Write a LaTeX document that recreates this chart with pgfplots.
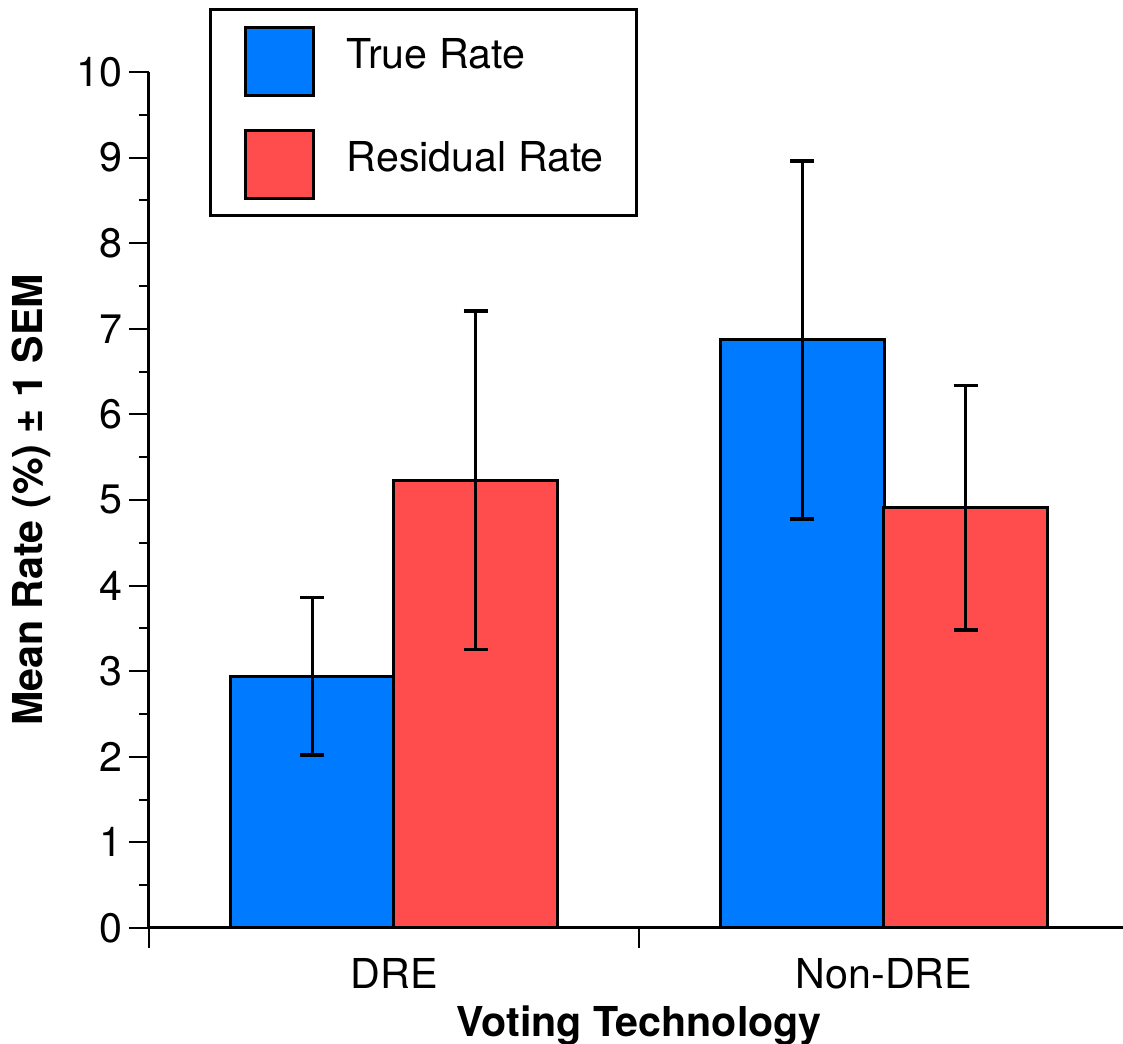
\documentclass[border=0pt]{standalone}
\usepackage{fontspec}
\setmainfont{TeX Gyre Heros}
\usepackage{pgfplots}
\pgfplotsset{compat=1.18}
\definecolor{barblue}{RGB}{0,122,255}
\definecolor{barred}{RGB}{255,76,76}
\begin{document}
\begin{tikzpicture}
\begin{axis}[
  scale only axis,
  width=490pt, height=428pt,
  xmin=-0.5, xmax=1.5, ymin=0, ymax=10,
  axis x line=bottom, axis y line=left,
  axis line style={-, line width=1.5pt, black},
  tick align=outside,
  major tick length=10pt, minor tick length=5pt,
  tick style={line width=1pt, black},
  ytick={0,1,2,3,4,5,6,7,8,9,10},
  minor y tick num=1,
  xtick={-0.5,0.5,1.5},
  xticklabels={},
  extra x ticks={0,1},
  extra x tick labels={DRE,Non-DRE},
  extra x tick style={major tick length=0pt, tick style={draw=none}},
  /pgf/number format/assume math mode=true,
  tick label style={font=\fontsize{20.6}{24}\selectfont, black},
  xticklabel style={inner sep=0pt, anchor=north, yshift=-15pt},
  yticklabel style={inner sep=0pt, anchor=east, xshift=-3pt},
  xlabel={\bfseries Voting Technology},
  ylabel={\bfseries Mean Rate (\%) ± 1 SEM},
  label style={font=\fontsize{20.6}{24}\selectfont},
  xlabel style={at={(axis description cs:0.5,-0.1262)}, anchor=base, inner sep=0pt},
  ylabel style={at={(axis description cs:-0.1082,0.5)}, anchor=base, inner sep=0pt, rotate=0},
  ybar=0pt,
  bar width=81.67pt,
  legend style={at={(axis description cs:0.0615,1.0745)}, anchor=north west,
    draw=black, line width=1.5pt, inner xsep=16.5pt, inner ysep=8pt,
    row sep=16pt, font=\fontsize{20.6}{24}\selectfont,
    nodes={inner sep=0pt}},
  legend cell align=left,
  /tikz/every odd column/.append style={column sep=16pt},
  error bars/error bar style={line width=1.7pt, black},
  error bars/error mark options={rotate=90, mark size=6pt, line width=1.7pt, black},
]
\addplot+[bar shift=-40.83pt, fill=barblue, draw=black, line width=1.5pt,
  legend image code/.code={\draw[fill=barblue,draw=black,line width=1.5pt] (0pt,-20pt) rectangle (34pt,14pt);},
  error bars/.cd, y dir=both, y explicit]
  coordinates {(0,2.94) +- (0,0.92) (1,6.87) +- (0,2.09)};
\addplot+[bar shift=40.83pt, fill=barred, draw=black, line width=1.5pt,
  legend image code/.code={\draw[fill=barred,draw=black,line width=1.5pt] (0pt,-20pt) rectangle (34pt,14pt);},
  error bars/.cd, y dir=both, y explicit]
  coordinates {(0,5.23) +- (0,1.98) (1,4.91) +- (0,1.43)};
\legend{True Rate, Residual Rate}
\coordinate (bbsw) at (rel axis cs:-0.15204,-0.13435);
\coordinate (bbne) at (rel axis cs:0.99388,1.08411);
\end{axis}
\pgfresetboundingbox
\useasboundingbox (bbsw) rectangle (bbne);
\end{tikzpicture}
\end{document}
